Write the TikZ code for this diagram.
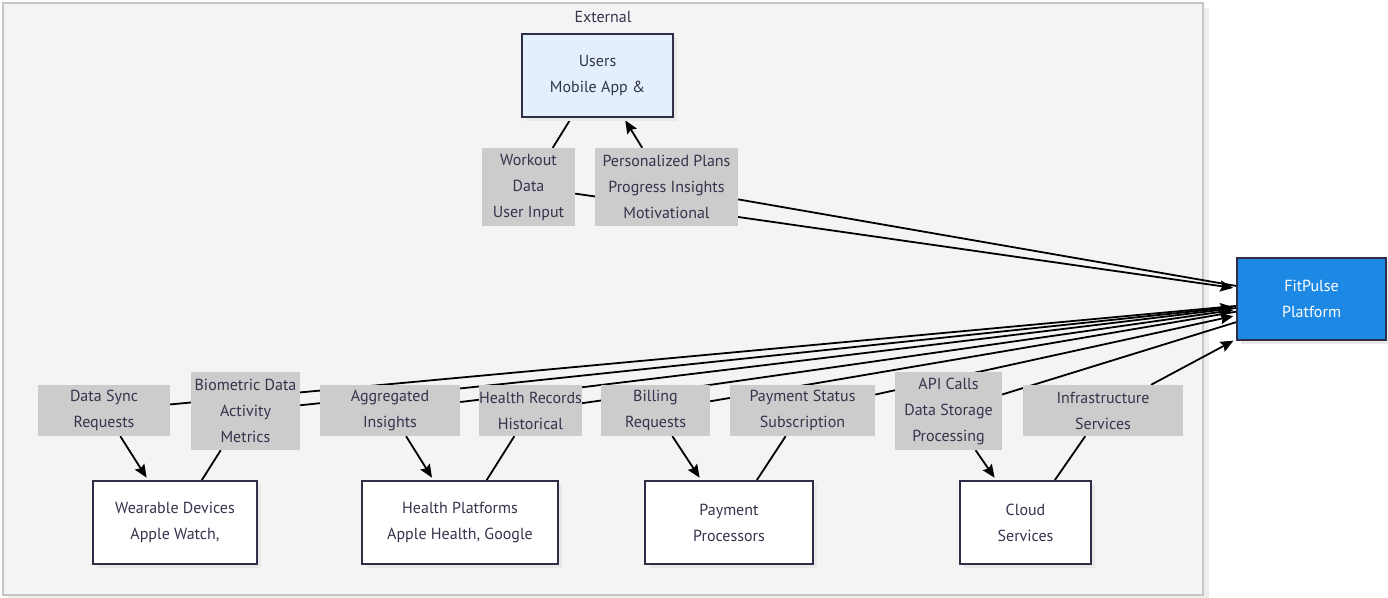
\documentclass[tikz,border=0pt]{standalone}
\usepackage{fontspec}
\setmainfont{PT Sans}
\usetikzlibrary{arrows.meta,shadows}

\definecolor{ink}{HTML}{34344C}
\definecolor{frame}{HTML}{2E2E48}
\definecolor{clusterfill}{HTML}{F4F4F4}
\definecolor{clusterline}{HTML}{C6C6C6}
\definecolor{labelfill}{HTML}{CCCCCC}
\definecolor{userfill}{HTML}{E3F0FC}
\definecolor{corefill}{HTML}{1E88E5}

\pgfdeclarelayer{cluster}
\pgfdeclarelayer{edges}
\pgfsetlayers{cluster,edges,main}

\tikzset{
  txt/.style={font=\fontsize{16}{26}\selectfont, text=ink, align=center, inner sep=0pt},
  boxshadow/.style={drop shadow={shadow xshift=4pt, shadow yshift=-4pt, fill=black!9, opacity=1}},
  extbox/.style={txt, draw=frame, line width=1.6pt, fill=white, boxshadow},
  userbox/.style={extbox, fill=userfill},
  corebox/.style={extbox, fill=corefill, text=white},
  edgelabel/.style={txt, fill=labelfill},
  link/.style={line width=1.8pt, black},
  flow/.style={link, -{Stealth[length=13pt, width=11pt, inset=2pt]}, shorten >=3pt},
}

\begin{document}
\begin{tikzpicture}[x=1pt, y=-1pt]
\useasboundingbox (0,0) rectangle (1388,597);

% external systems cluster
\begin{pgfonlayer}{cluster}
  \fill[black!7] (8,8) rectangle (1209,600);
  \node[draw=clusterline, fill=clusterfill, line width=1.6pt, minimum width=1200pt, minimum height=592pt, inner sep=0pt] (ext) at (603,299) {};
\end{pgfonlayer}
\node[txt] (extname) at (603,17) {External};

% systems
\node[userbox, minimum width=151pt, minimum height=83pt] (users) at (597.5,75.5) {Users\\Mobile App \&};
\node[corebox, minimum width=149pt, minimum height=82pt] (fitpulse) at (1311.5,299) {FitPulse\\Platform};
\node[extbox, minimum width=164pt, minimum height=83pt] (wearable) at (175,522.5) {Wearable Devices\\Apple Watch,};
\node[extbox, minimum width=196pt, minimum height=83pt] (healthplat) at (460,522.5) {Health Platforms\\Apple Health, Google};
\node[extbox, minimum width=168pt, minimum height=83pt] (payment) at (729,522.5) {Payment\\Processors};
\node[extbox, minimum width=131pt, minimum height=83pt] (cloud) at (1025.5,522.5) {Cloud\\Services};

% edge labels
\node[edgelabel, minimum width=93pt, minimum height=78pt] (workout) at (528.5,187) {Workout\\Data\\User Input};
\node[edgelabel, minimum width=143pt, minimum height=78pt] (plans) at (666.5,187) {Personalized Plans\\Progress Insights\\Motivational};
\node[edgelabel, minimum width=132pt, minimum height=51pt] (sync) at (104,410.5) {Data Sync\\Requests};
\node[edgelabel, minimum width=109pt, minimum height=78pt] (bio) at (245.5,411) {Biometric Data\\Activity\\Metrics};
\node[edgelabel, minimum width=140pt, minimum height=51pt] (aggr) at (390,410.5) {Aggregated\\Insights};
\node[edgelabel, minimum width=101pt, minimum height=51pt] (records) at (530.5,410.5) {Health Records\\Historical};
\node[edgelabel, minimum width=109pt, minimum height=51pt] (billing) at (655.5,410.5) {Billing\\Requests};
\node[edgelabel, minimum width=145pt, minimum height=51pt] (paystat) at (802.5,410.5) {Payment Status\\Subscription};
\node[edgelabel, minimum width=107pt, minimum height=78pt] (api) at (948.5,411) {API Calls\\Data Storage\\Processing};
\node[edgelabel, minimum width=160pt, minimum height=51pt] (infra) at (1103,410.5) {Infrastructure\\Services};

% connectors
\begin{pgfonlayer}{edges}
  \draw[link] (users) -- (workout);
  \draw[flow] (workout) -- (fitpulse);
  \draw[link] (fitpulse) -- (plans);
  \draw[flow] (plans) -- (users);

  \draw[link] (fitpulse) -- (sync);
  \draw[flow] (sync) -- (wearable);
  \draw[link] (wearable) -- (bio);
  \draw[flow] (bio) -- (fitpulse);

  \draw[link] (fitpulse) -- (aggr);
  \draw[flow] (aggr) -- (healthplat);
  \draw[link] (healthplat) -- (records);
  \draw[flow] (records) -- (fitpulse);

  \draw[link] (fitpulse) -- (billing);
  \draw[flow] (billing) -- (payment);
  \draw[link] (payment) -- (paystat);
  \draw[flow] (paystat) -- (fitpulse);

  \draw[link] (fitpulse) -- (api);
  \draw[flow] (api) -- (cloud);
  \draw[link] (cloud) -- (infra);
  \draw[flow] (infra) -- (fitpulse);
\end{pgfonlayer}
\end{tikzpicture}
\end{document}
